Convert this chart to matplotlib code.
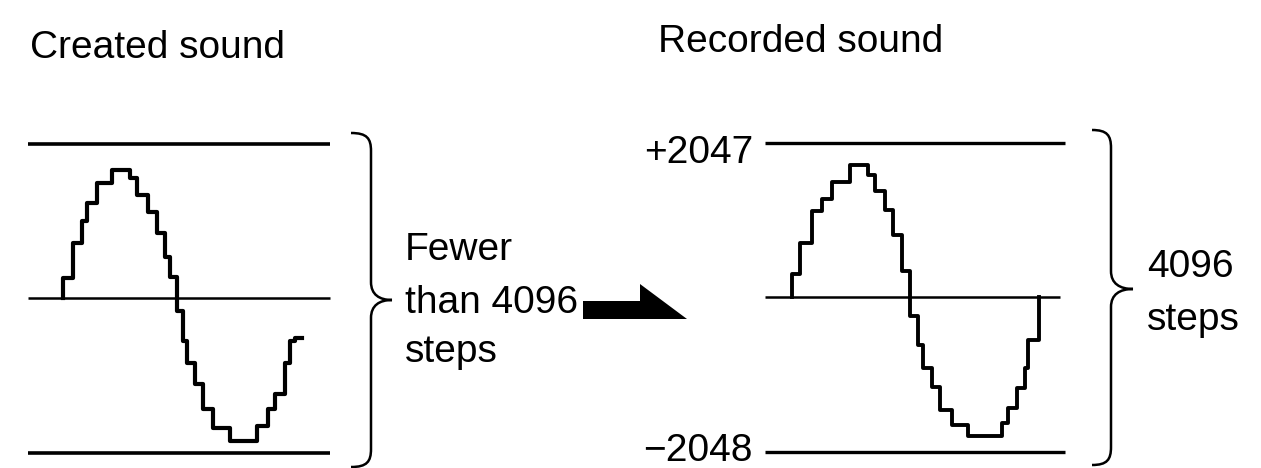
import numpy as np
import matplotlib
matplotlib.use('Agg')
import matplotlib.pyplot as plt
from matplotlib.path import Path
from matplotlib.patches import PathPatch, FancyArrow

# Staircase waveforms: time of each step edge (0-100 across a panel)
# and the level held after that edge
created_t = [11.7, 14.8, 17.8, 19.4, 22.7, 27.7, 33.8, 36.2, 39.8, 42.6, 45.4, 47.0, 49.2,
             51.4, 52.5, 55.3, 58.0, 61.4, 66.9, 75.7, 79.6, 81.8, 85.1, 86.8, 88.4, 90.6]
created_v = [270, 730, 1020, 1260, 1530, 1705, 1595, 1375, 1150, 865, 555, 290,
             -170, -570, -860, -1140, -1470, -1720, -1895, -1695, -1470, -1260, -860, -570, -530]

recorded_t = [8.9, 11.7, 15.6, 18.9, 22.2, 28.3, 34.4, 36.7, 40.0, 42.8, 45.6, 48.3,
              51.1, 52.8, 55.6, 58.3, 62.2, 67.8, 78.9, 81.1, 83.9, 86.7, 87.8, 91.4]
recorded_v = [305, 720, 1140, 1300, 1525, 1760, 1625, 1405, 1160, 830, 345,
              -250, -625, -935, -1180, -1490, -1685, -1840, -1665, -1465, -1200, -935, -560]

rec_max = 2047
rec_min = -2048

titles = ['Created sound', 'Recorded sound']
left_note = ['Fewer', 'than 4096', 'steps']
right_note = ['4096', 'steps']

W, H = 1261, 468
plt.rcParams['font.family'] = ['Liberation Sans', 'DejaVu Sans']
FS = 28

fig = plt.figure(figsize=(W / 100, H / 100), dpi=100)
fig.patch.set_facecolor('white')


def panel(x0, x1, ytop, ybot):
    ax = fig.add_axes([x0 / W, 1 - ybot / H, (x1 - x0) / W, (ybot - ytop) / H])
    ax.set_xlim(0, 100)
    ax.set_ylim(rec_min, rec_max)
    ax.axis('off')
    return ax


# left panel: created sound
axl = panel(28, 330, 144, 453)
axl.hlines([rec_max, rec_min], 0, 100, color='black', lw=2.6, clip_on=False)
axl.hlines(0, 0, 100, color='black', lw=1.8, clip_on=False)
xs = np.r_[created_t[0], created_t]
ys = np.r_[0, created_v, created_v[-1]]
axl.plot(xs, ys, drawstyle='steps-post', color='black', lw=3.0, clip_on=False)

# right panel: recorded sound
axr = panel(765, 1065, 143, 452)
axr.hlines([rec_max, rec_min], 0, 100, color='black', lw=2.4, clip_on=False)
axr.hlines(0, 0, 98.3, color='black', lw=1.8, clip_on=False)
xs = np.r_[recorded_t[0], recorded_t]
ys = np.r_[0, recorded_v, 0]
axr.plot(xs, ys, drawstyle='steps-post', color='black', lw=2.8, clip_on=False)
axr.annotate('+%d' % rec_max, (0, rec_max), xytext=(-12, -20), textcoords='offset pixels',
             ha='right', va='baseline', fontsize=FS)
axr.annotate('\u2212%d' % abs(rec_min), (0, rec_min), xytext=(-12, -9), textcoords='offset pixels',
             ha='right', va='baseline', fontsize=FS)

# overlay in image pixels for braces, arrow and notes
ov = fig.add_axes([0, 0, 1, 1])
ov.set_xlim(0, W)
ov.set_ylim(H, 0)
ov.axis('off')


def brace(x, y0, y1, ym, d, h, r=18):
    verts = [(x - h, y0), (x - h * 0.2, y0), (x, y0 + r * 0.3), (x, y0 + r),
             (x, ym - r),
             (x, ym - r * 0.3), (x + d * 0.4, ym), (x + d, ym),
             (x + d * 0.4, ym), (x, ym + r * 0.3), (x, ym + r),
             (x, y1 - r),
             (x, y1 - r * 0.3), (x - h * 0.2, y1), (x - h, y1)]
    codes = [Path.MOVETO, Path.CURVE4, Path.CURVE4, Path.CURVE4,
             Path.LINETO,
             Path.CURVE4, Path.CURVE4, Path.CURVE4,
             Path.CURVE4, Path.CURVE4, Path.CURVE4,
             Path.LINETO,
             Path.CURVE4, Path.CURVE4, Path.CURVE4]
    ov.add_patch(PathPatch(Path(verts, codes), fill=False, color='black', lw=1.8))


brace(371, 133, 467, 300, 21, 20)
brace(1111, 130, 465, 289, 22, 19)

ov.add_patch(FancyArrow(583, 319, 104, 0, width=36, head_width=70, head_length=47,
                        length_includes_head=True, shape='left', color='black', lw=0))

ov.text(30, 58, titles[0], fontsize=FS, va='baseline')
ov.text(658, 52, titles[1], fontsize=FS, va='baseline')

for s, yb in zip(left_note, [260, 313, 362]):
    ov.text(405, yb, s, fontsize=FS, va='baseline')
for s, yb in zip(right_note, [277, 330]):
    ov.text(1147, yb, s, fontsize=FS, va='baseline')

fig.savefig('out.png', dpi=100, facecolor='white')
